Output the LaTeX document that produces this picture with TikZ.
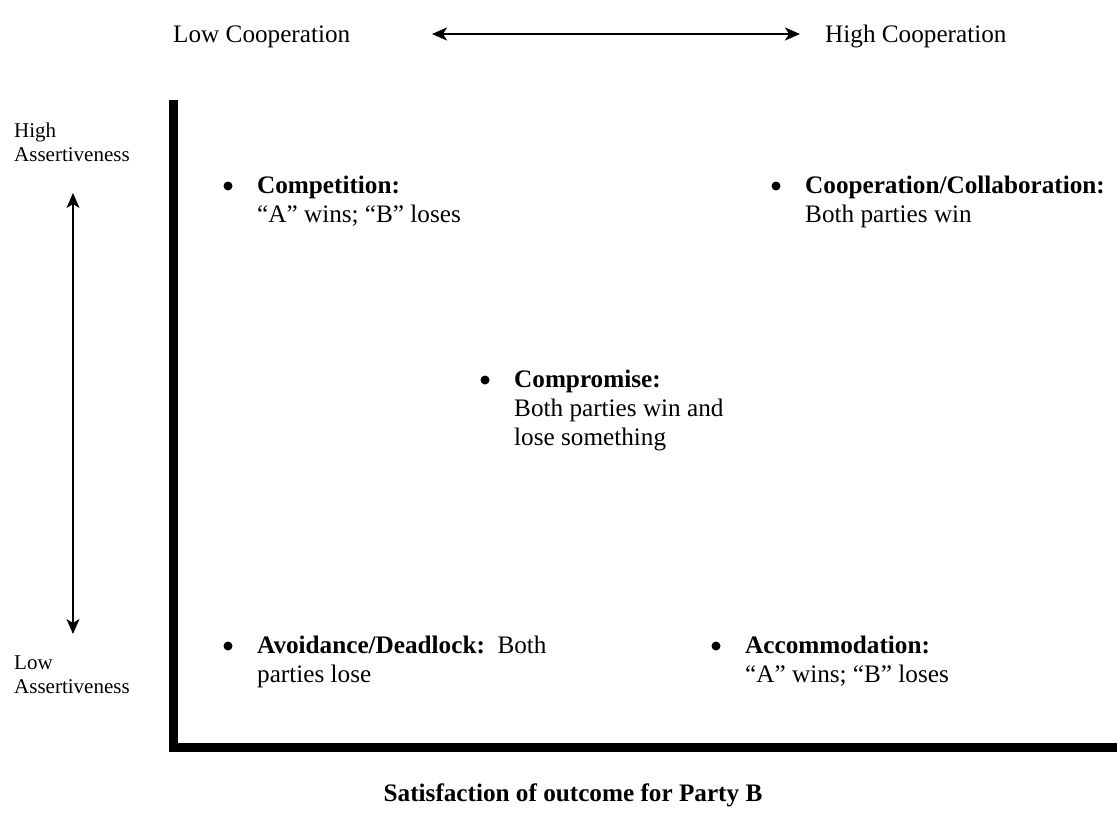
\documentclass[tikz,border=0pt]{standalone}
\usepackage{fontspec}
\setmainfont{Liberation Serif}
\usetikzlibrary{arrows.meta}
\begin{document}
\begin{tikzpicture}[x=1pt,y=-1pt,
  body/.style={anchor=base west,inner sep=0pt,font=\fontsize{25.2}{28.8}\selectfont},
  bold/.style={body,font=\fontsize{25.2}{28.8}\selectfont\bfseries},
  small/.style={anchor=base west,inner sep=0pt,font=\fontsize{21}{23}\selectfont},
  dot/.style={circle,fill=black,inner sep=0pt,minimum size=9pt},
  axis/.style={line width=9pt,line join=miter},
  twoway/.style={{Stealth[length=15pt,width=13pt,inset=4pt]}-{Stealth[length=15pt,width=13pt,inset=4pt]}}]
\useasboundingbox (0,0) rectangle (1117,825);

% cooperation scale along the top
\node[body] (lowcoop) at (173,42) {Low Cooperation};
\node[body] (highcoop) at (825,42) {High Cooperation};
\coordinate (coopL) at (432,34);
\coordinate (coopR) at (800,34);
\draw[twoway,line width=2pt] (coopL) -- (coopR);

% assertiveness scale on the left
\node[small] (highA1) at (14,137) {High};
\node[small] (highA2) at (14,161) {Assertiveness};
\node[small] (lowA1) at (14,669) {Low};
\node[small] (lowA2) at (14,693) {Assertiveness};
\coordinate (assT) at (73,193);
\coordinate (assB) at (73,634);
\draw[twoway,line width=1.5pt] (assT) -- (assB);

% axes
\coordinate (axTop) at (173.5,100);
\coordinate (axCorner) at (173.5,747);
\coordinate (axRight) at (1117,747);
\draw[axis] (axTop) -- (axCorner) -- (axRight);

% competition
\node[dot] (b1) at (228,186) {};
\node[bold] (comp) at (257,193) {Competition:};
\node[body] (comp2) at (257,222) {“A” wins; “B” loses};

% cooperation / collaboration
\node[dot] (b2) at (776,186) {};
\node[bold] (coll) at (805,193) {Cooperation/Collaboration:};
\node[body] (coll2) at (805,222) {Both parties win};

% compromise
\node[dot] (b3) at (485,380) {};
\node[bold] (cmpr) at (514,387) {Compromise:};
\node[body] (cmpr2) at (514,416) {Both parties win and};
\node[body] (cmpr3) at (514,445) {lose something};

% avoidance / deadlock
\node[dot] (b4) at (228,646) {};
\node[body] (avoid) at (257,653) {\textbf{Avoidance/Deadlock:}\ \ Both};
\node[body] (avoid2) at (257,682) {parties lose};

% accommodation
\node[dot] (b5) at (716,646) {};
\node[bold] (acc) at (745,653) {Accommodation:};
\node[body] (acc2) at (745,682) {“A” wins; “B” loses};

% horizontal axis title
\node[anchor=base,inner sep=0pt,font=\fontsize{25.2}{28.8}\selectfont\bfseries] (title) at (573,801) {Satisfaction of outcome for Party B};
\end{tikzpicture}
\end{document}
